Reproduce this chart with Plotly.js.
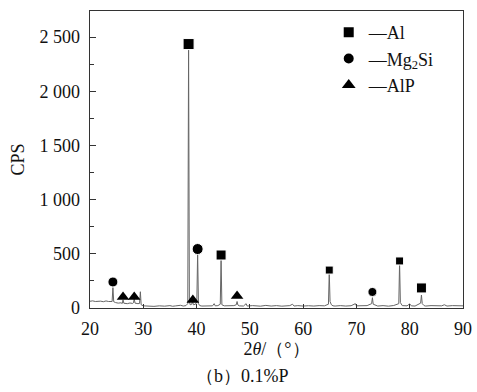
<!DOCTYPE html>
<html><head><meta charset="utf-8">
<script src="https://cdn.plot.ly/plotly-3.0.1.min.js"></script>
<style>html,body{margin:0;padding:0;background:#fff}#c{width:477px;height:392px}</style>
</head><body><div id="c"></div>
<script>
// XRD pattern (2θ in degrees, counts)
const twoTheta = [20.0,20.5,21.0,21.5,22.0,22.5,23.0,23.5,24.0,24.15,24.3,24.45,24.8,25.3,25.8,26.05,26.2,26.35,27.0,27.5,28.0,28.15,28.3,28.45,29.0,29.3,29.45,29.6,30.0,30.5,31,32,33,34,35,35.5,36,37,37.5,38.0,38.35,38.5,38.65,38.8,39.1,39.25,39.4,39.8,40.05,40.2,40.35,40.6,41,42,43,43.3,43.5,44,44.45,44.6,44.75,45.2,46,47,47.45,47.6,47.75,48,48.8,49.3,49.5,50.5,52,53,54,55,56,57.5,58,58.3,59,60,61,62,63,64,64.75,64.9,65.05,65.3,65.6,66,67,68,69,69.8,70,71,72,72.85,73.0,73.15,74,75,76,77,77.95,78.1,78.25,78.6,79.5,80,80.3,81,82.05,82.2,82.35,82.7,83,84,85,86,86.5,87,88,89,90];
const counts   = [62,66,60,64,63,58,65,60,55,60,190,58,50,45,48,42,75,44,40,46,42,48,85,45,40,42,150,30,20,18,22,15,20,17,22,16,19,25,18,22,40,2400,60,30,35,65,30,35,60,510,40,22,18,22,20,40,20,22,35,460,30,20,18,22,30,60,28,20,18,40,18,22,17,24,18,22,17,22,35,18,22,18,21,18,22,20,35,330,60,30,20,18,22,18,21,40,20,18,22,40,95,35,18,22,17,23,40,420,50,22,20,38,20,18,45,120,40,22,18,22,18,20,30,18,22,18,20];

// Phase markers
const alX = [38.5, 44.6, 64.9, 78.1, 82.2];
const alY = [2435, 489, 350, 434, 185];
const mgX = [24.3, 40.2, 73.0];
const mgY = [240, 544, 148];
const alpX = [26.2, 28.3, 39.3, 47.6];
const alpY = [101, 101, 74, 110];

const yTickVals = [0, 500, 1000, 1500, 2000, 2500];
const yTickText = ['0', '500', '1 000', '1 500', '2 000', '2 500'];
const xTickVals = [20, 30, 40, 50, 60, 70, 80, 90];

const serif = 'Liberation Serif, Times New Roman, serif';

const traces = [
  {x: twoTheta, y: counts, mode: 'lines', line: {color: '#666', width: 1}, showlegend: false, hoverinfo: 'skip'},
  {x: alX, y: alY, mode: 'markers', name: '—Al', marker: {symbol: 'square', size: [11, 10, 8, 8, 10], color: '#000', opacity: 1}},
  {x: mgX, y: mgY, mode: 'markers', name: '—Mg<sub>2</sub>Si', marker: {symbol: 'circle', size: [10, 11, 9], color: '#000', opacity: 1}},
  {x: alpX, y: alpY, mode: 'markers', name: '—AlP', marker: {symbol: 'triangle-up', size: 11, color: '#000', opacity: 1}}
];

const layout = {
  width: 477, height: 392,
  margin: {l: 90, r: 14, t: 11, b: 84, autoexpand: false},
  paper_bgcolor: '#fff', plot_bgcolor: '#fff',
  font: {family: serif, size: 18, color: '#111'},
  showlegend: true,
  legend: {x: 0.64, y: 0.99, xanchor: 'left', yanchor: 'top', bgcolor: 'rgba(0,0,0,0)',
           font: {family: serif, size: 18, color: '#111'}, itemwidth: 30, tracegroupgap: 0,
           itemsizing: 'constant'},
  xaxis: {range: [20, 90], tickvals: xTickVals, ticks: 'inside', ticklen: 4, tickcolor: '#333',
          showline: true, linecolor: '#333', linewidth: 1.3, mirror: true, showgrid: false, zeroline: false,
          ticklabelstandoff: 4, automargin: false,
          tickfont: {family: serif, size: 18},
          title: {text: '2<i>θ</i>/（°）', font: {family: serif, size: 18}, standoff: 4}},
  yaxis: {range: [0, 2740], tickvals: yTickVals, ticktext: yTickText, ticks: 'inside', ticklen: 6, tickcolor: '#333',
          minor: {ticks: 'inside', ticklen: 4, dtick: 250, tick0: 0, tickcolor: '#333'},
          showline: true, linecolor: '#333', linewidth: 1.3, mirror: true, showgrid: false, zeroline: false,
          ticklabelstandoff: 5, automargin: false,
          tickfont: {family: serif, size: 18},
          title: {text: 'CPS', font: {family: serif, size: 18}, standoff: 10}},
  annotations: [
    {text: '（b）0.1%P', xref: 'paper', yref: 'paper', x: 0.41, y: -0.23, xanchor: 'center', yanchor: 'middle',
     showarrow: false, font: {family: serif, size: 18, color: '#111'}}
  ]
};

Plotly.newPlot('c', traces, layout, {displayModeBar: false, staticPlot: true});
</script>
</body></html>
